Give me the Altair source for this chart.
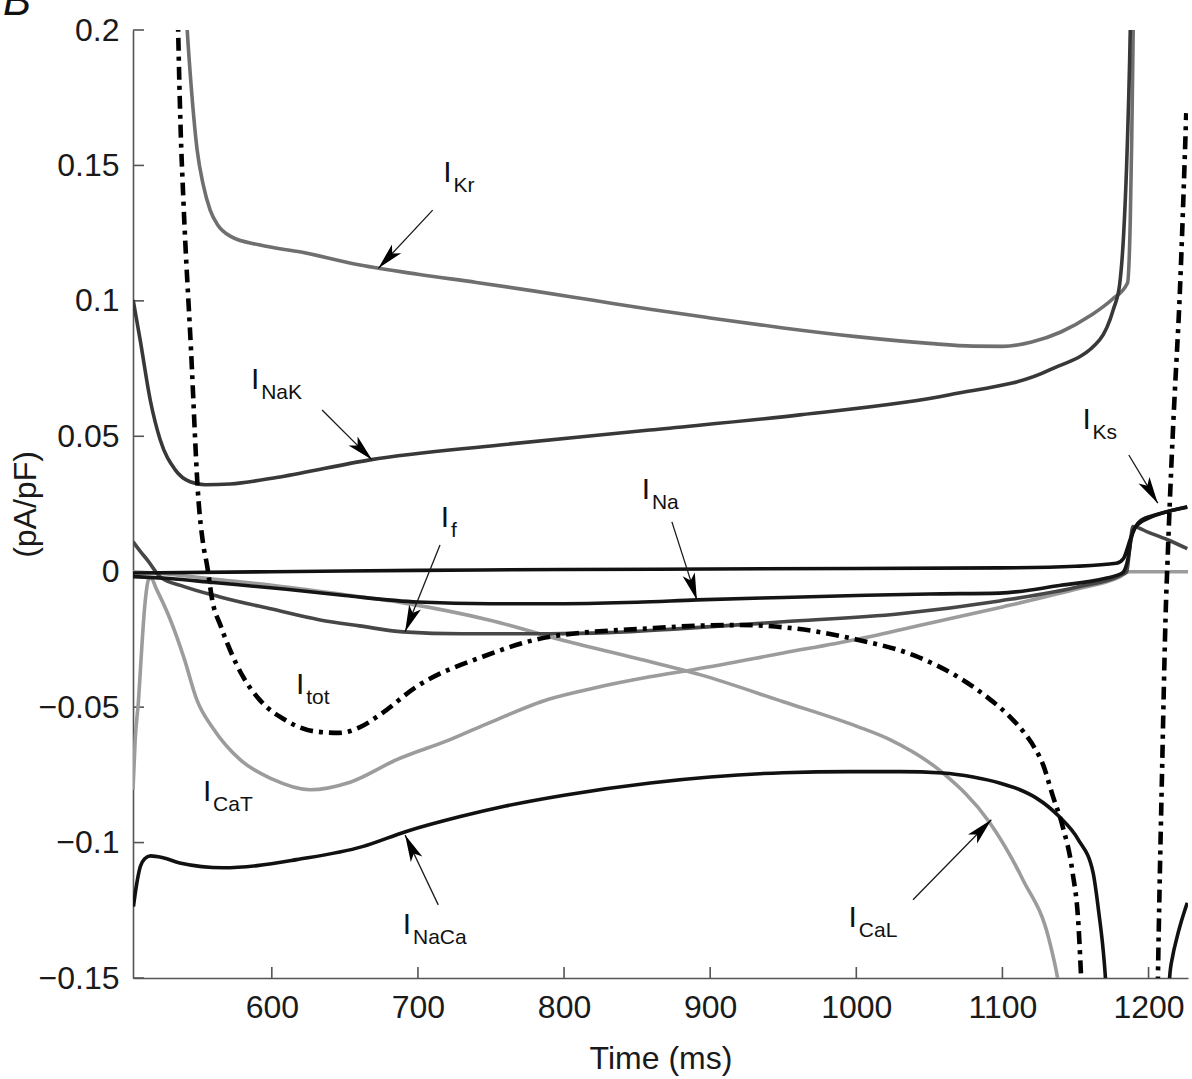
import math
import altair as alt
import pandas as pd

# ---------------- axes ----------------
X_DOMAIN = [505, 1227]
Y_DOMAIN = [-0.15, 0.2]
W, H = 1055, 948
x_ticks = [600, 700, 800, 900, 1000, 1100, 1200]
y_ticks = [-0.15, -0.1, -0.05, 0, 0.05, 0.1, 0.15, 0.2]

# ---------------- series (time ms, current pA/pF) ----------------
icat_t = [505, 506.5, 508.8, 511, 513, 515.6, 517, 521.3, 530, 540, 548.7, 560, 578.3, 600, 626.2,
          653.6, 685.5, 722, 750, 790, 820, 858.8, 890, 950, 1000, 1050, 1100, 1150, 1180, 1187, 1227]
icat_v = [-0.0805, -0.062, -0.0473, -0.028, -0.013, -0.003, -0.0022, -0.0067, -0.017, -0.032, -0.0473,
          -0.058, -0.0694, -0.0765, -0.0805, -0.0777, -0.0694, -0.062, -0.0555, -0.047, -0.043, -0.0388,
          -0.036, -0.030, -0.025, -0.019, -0.013, -0.0065, -0.002, 0.0, 0.0]

ical_t = [505, 520, 540, 565, 600, 650, 690, 750, 797, 850, 893, 950, 1000, 1023, 1059, 1091, 1114,
          1132, 1138, 1142]
ical_v = [0.0, -0.0005, -0.0015, -0.003, -0.005, -0.0085, -0.0115, -0.018, -0.025, -0.032, -0.038,
          -0.048, -0.057, -0.062, -0.0742, -0.0924, -0.1137, -0.136, -0.1507, -0.165]

ikr_t = [540.5, 542.1, 545, 548.9, 553, 557.8, 563, 571.5, 592, 620, 660.4, 700, 740, 780, 820, 860,
         900, 950, 1000, 1050, 1080, 1100, 1120, 1140, 1160, 1175, 1185.6, 1187.5, 1188.5, 1189.5,
         1190.5]
ikr_v = [0.215, 0.2, 0.178, 0.1557, 0.143, 0.1335, 0.128, 0.1239, 0.1206, 0.118, 0.1132, 0.1098,
         0.1068, 0.1036, 0.1002, 0.0968, 0.0937, 0.0900, 0.0868, 0.0843, 0.0833, 0.0832, 0.0848,
         0.0885, 0.0945, 0.1005, 0.1066, 0.13, 0.16, 0.2, 0.25]

inak_t = [505.1, 509.9, 516.8, 523.6, 533.9, 544.1, 554.4, 571.5, 605.7, 667.2, 756.1, 858.7, 961.3,
          1063.9, 1132.3, 1166.5, 1176, 1180.2, 1183, 1185, 1187.5, 1189]
inak_v = [0.1003, 0.0856, 0.0634, 0.0487, 0.0376, 0.0332, 0.0321, 0.0324, 0.035, 0.0413, 0.0468,
          0.0523, 0.0579, 0.0653, 0.0745, 0.0856, 0.097, 0.106, 0.125, 0.15, 0.2, 0.25]

if_t = [505.1, 510, 514.9, 523.6, 540, 564.6, 600, 633, 660, 689.8, 730, 790, 830, 880, 950, 1030,
        1098, 1153, 1180, 1185, 1187, 1189.3, 1200, 1213, 1226.5]
if_v = [0.011, 0.0075, 0.0043, -0.0019, -0.0055, -0.0093, -0.0138, -0.0178, -0.020, -0.0222, -0.0229,
        -0.0229, -0.0225, -0.021, -0.0185, -0.0155, -0.0108, -0.0055, -0.0015, 0.0, 0.008, 0.0167,
        0.0145, 0.0118, 0.0085]

ina_t = [505, 530, 560, 610, 650, 700, 750, 800, 850, 891, 950, 1000, 1050, 1098, 1140, 1170, 1182,
         1186, 1188, 1191, 1195, 1205, 1215, 1226.5]
ina_v = [-0.0018, -0.0025, -0.004, -0.0065, -0.0088, -0.0112, -0.0118, -0.0118, -0.0113, -0.0104,
         -0.0095, -0.0088, -0.0082, -0.0079, -0.005, -0.0025, -0.0005, 0.005, 0.012, 0.0165, 0.019,
         0.021, 0.0225, 0.0238]

iks_t = [505, 600, 700, 800, 900, 1000, 1098, 1150, 1178, 1183, 1186, 1187.3, 1190, 1194, 1200, 1205.5,
         1215, 1226.5]
iks_v = [-0.0005, 0.0, 0.0005, 0.0008, 0.001, 0.0012, 0.0014, 0.002, 0.0031, 0.005, 0.0095, 0.0117,
         0.0155, 0.018, 0.0198, 0.021, 0.0225, 0.024]

inaca_t = [505.3, 507, 510, 513, 517, 525, 537, 567, 590, 617, 662, 692, 729, 760, 800, 859, 900, 950,
           996, 1030, 1059, 1080, 1098, 1112, 1123, 1139, 1152, 1162, 1166, 1169, 1170.5, 1172]
inaca_v = [-0.1236, -0.117, -0.1088, -0.106, -0.1049, -0.1055, -0.1075, -0.1093, -0.1085, -0.1063,
           -0.1015, -0.0959, -0.0904, -0.0865, -0.0825, -0.078, -0.0758, -0.0742, -0.0738, -0.0738,
           -0.0743, -0.0758, -0.078, -0.0805, -0.0835, -0.0905, -0.099, -0.111, -0.126, -0.14, -0.15,
           -0.165]
inaca2_t = [1213.5, 1214.4, 1216.5, 1219, 1222.5, 1226.5]
inaca2_v = [-0.165, -0.15, -0.142, -0.136, -0.129, -0.1222]

itot_t = [534.5, 535.9, 537.5, 539.5, 544.7, 549.8, 552.8, 555.8, 559.2, 565, 571.5, 580, 592, 610, 630,
          646, 660, 674, 699.1, 744.7, 790.3, 858.7, 900, 920, 950, 1000, 1040, 1070, 1090, 1105, 1115,
          1122, 1128, 1134.3, 1141.2, 1148, 1152, 1154, 1156]
itot_v = [0.24, 0.2, 0.165, 0.137, 0.082, 0.0265, 0.011, 0.002, -0.0104, -0.02, -0.029, -0.0385,
          -0.0475, -0.055, -0.059, -0.0595, -0.0575, -0.0528, -0.0424, -0.0313, -0.024, -0.0209,
          -0.0198, -0.0197, -0.0205, -0.025, -0.031, -0.039, -0.0465, -0.0535, -0.0595, -0.065,
          -0.0715, -0.0825, -0.094, -0.111, -0.13, -0.151, -0.17]
itot2_t = [1206, 1206.4, 1207.5, 1209, 1212, 1213, 1214.5, 1216.4, 1217.7, 1221.2, 1225.8]
itot2_v = [-0.165, -0.1507, -0.118, -0.08, -0.0104, 0.004, 0.025, 0.0487, 0.0634, 0.1004, 0.1693]

# ---------------- annotations ----------------
label_main = ["I", "I", "I", "I", "I", "I", "I", "I", "I"]
label_sub = ["Kr", "NaK", "Ks", "f", "Na", "tot", "CaT", "NaCa", "CaL"]
label_t = [720.2, 588.6, 1157.6, 718.5, 856.0, 619.4, 555.7, 692.5, 997.6]
label_v = [0.1472, 0.0708, 0.0560, 0.0199, 0.0302, -0.0418, -0.0813, -0.1303, -0.1278]

arrow_name = ["Kr", "NaK", "Ks", "f", "Na", "NaCa", "CaL"]
arrow_t0 = [710.1, 634.4, 1186.5, 715.1, 873.8, 713.9, 1038.8]
arrow_v0 = [0.1335, 0.0597, 0.0431, 0.0099, 0.0184, -0.1230, -0.1211]
arrow_t1 = [672.9, 668.6, 1206.3, 691.2, 890.9, 691.2, 1092.4]
arrow_v1 = [0.1120, 0.0413, 0.0253, -0.0222, -0.0104, -0.0972, -0.0916]

# ---------------- build tables ----------------
series_specs = [
    ("ICaT", "a", icat_t, icat_v),
    ("ICaL", "a", ical_t, ical_v),
    ("IKr", "a", ikr_t, ikr_v),
    ("INaK", "a", inak_t, inak_v),
    ("If", "a", if_t, if_v),
    ("INa", "a", ina_t, ina_v),
    ("IKs", "a", iks_t, iks_v),
    ("INaCa", "a", inaca_t, inaca_v),
    ("INaCa", "b", inaca2_t, inaca2_v),
]
rows = []
for name, seg, ts, vs in series_specs:
    for i, (t, v) in enumerate(zip(ts, vs)):
        rows.append({"series": name, "seg": name + seg, "t": t, "v": v, "i": i})
solid = pd.DataFrame(rows)

rows = []
for seg, ts, vs in [("a", itot_t, itot_v), ("b", itot2_t, itot2_v)]:
    for i, (t, v) in enumerate(zip(ts, vs)):
        rows.append({"seg": seg, "t": t, "v": v, "i": i})
tot = pd.DataFrame(rows)

color_domain = ["ICaT", "ICaL", "IKr", "INaK", "If", "INa", "IKs", "INaCa"]
color_range = ["#9c9c9c", "#9c9c9c", "#6f6f6f", "#383838", "#474747", "#151515", "#111111", "#111111"]


def px(t):
    return (t - X_DOMAIN[0]) / (X_DOMAIN[1] - X_DOMAIN[0]) * W


def py(v):
    return (Y_DOMAIN[1] - v) / (Y_DOMAIN[1] - Y_DOMAIN[0]) * H


arr_rows = []
for n, t0, v0, t1, v1 in zip(arrow_name, arrow_t0, arrow_v0, arrow_t1, arrow_v1):
    dx = px(t1) - px(t0)
    dy = py(v1) - py(v0)
    ang = math.degrees(math.atan2(dx, -dy)) % 360
    arr_rows.append({"name": n, "t0": t0, "v0": v0, "t1": t1, "v1": v1, "ang": ang})
arrows = pd.DataFrame(arr_rows)

labels = pd.DataFrame({"main": label_main, "sub": label_sub, "t": label_t, "v": label_v})

xs = alt.Scale(domain=X_DOMAIN, nice=False, zero=False)
ys = alt.Scale(domain=Y_DOMAIN, nice=False, zero=False)
FONT = "Liberation Sans"

x_axis = alt.Axis(values=x_ticks, format="d", title="Time (ms)", ticks=False, grid=False,
                  labelFontSize=32, labelPadding=14, labelFont=FONT, labelColor="#1a1a1a",
                  titleFont=FONT, titleFontSize=32, titleFontWeight="normal", titleColor="#1a1a1a",
                  titleY=80, titleBaseline="middle",
                  domainColor="#555555", domainWidth=1.6)
y_axis = alt.Axis(values=y_ticks, format="~g", title="(pA/pF)", ticks=False, grid=False,
                  labelFontSize=32, labelPadding=14, labelFont=FONT, labelColor="#1a1a1a",
                  titleFont=FONT, titleFontSize=32, titleFontWeight="normal", titleColor="#1a1a1a",
                  titleX=-108, titleY=H / 2, titleBaseline="middle", titleAngle=270,
                  domainColor="#555555", domainWidth=1.6)

base_lines = alt.Chart(solid).mark_line(strokeWidth=3.6, clip=True, interpolate="monotone").encode(
    x=alt.X("t:Q", scale=xs, axis=x_axis),
    y=alt.Y("v:Q", scale=ys, axis=y_axis),
    color=alt.Color("series:N", scale=alt.Scale(domain=color_domain, range=color_range), legend=None),
    detail="seg:N",
    order="i:Q",
)

tot_line = alt.Chart(tot).mark_line(strokeWidth=4.6, clip=True, interpolate="monotone", color="#000000",
                                    strokeDash=[13, 6, 4, 6]).encode(
    x=alt.X("t:Q", scale=xs),
    y=alt.Y("v:Q", scale=ys),
    detail="seg:N",
    order="i:Q",
)

xtick = alt.Chart(pd.DataFrame({"t": x_ticks})).mark_rule(color="#555555", strokeWidth=1.6).encode(
    x=alt.X("t:Q", scale=xs), y=alt.value(H), y2=alt.value(H - 11))
ytick = alt.Chart(pd.DataFrame({"v": y_ticks})).mark_rule(color="#555555", strokeWidth=1.6).encode(
    y=alt.Y("v:Q", scale=ys), x=alt.value(0), x2=alt.value(11))

shafts = alt.Chart(arrows).mark_rule(color="#1a1a1a", strokeWidth=1.3).encode(
    x=alt.X("t0:Q", scale=xs), y=alt.Y("v0:Q", scale=ys), x2="t1:Q", y2="v1:Q")

heads = alt.Chart(arrows).mark_point(
    shape="M0,0L-0.5,2.1L0,1.6L0.5,2.1Z", filled=True, size=650, color="#000000", opacity=1,
    strokeWidth=0).encode(
    x=alt.X("t1:Q", scale=xs), y=alt.Y("v1:Q", scale=ys),
    angle=alt.Angle("ang:Q", scale=None))

main_txt = alt.Chart(labels).mark_text(font=FONT, fontSize=30, align="center", baseline="middle",
                                       color="#111111").encode(
    x=alt.X("t:Q", scale=xs), y=alt.Y("v:Q", scale=ys), text="main:N")
sub_txt = alt.Chart(labels).mark_text(font=FONT, fontSize=21, align="left", baseline="middle",
                                      dx=6, dy=13, color="#111111").encode(
    x=alt.X("t:Q", scale=xs), y=alt.Y("v:Q", scale=ys), text="sub:N")

panel = alt.Chart(pd.DataFrame({"letter": ["B"]})).mark_text(
    font=FONT, fontSize=42, fontStyle="italic", align="left", baseline="alphabetic",
    color="#111111").encode(x=alt.value(-130), y=alt.value(-15), text="letter:N")

chart = alt.layer(xtick, ytick, base_lines, tot_line, shafts, heads, main_txt, sub_txt, panel).properties(
    width=W, height=H,
    padding={"left": 133, "top": 30, "right": 4, "bottom": 101},
    autosize=alt.AutoSizeParams(type="none"),
    background="white",
).configure_view(stroke=None)

chart.save("out.html", embed_options={"renderer": "svg", "actions": False})
